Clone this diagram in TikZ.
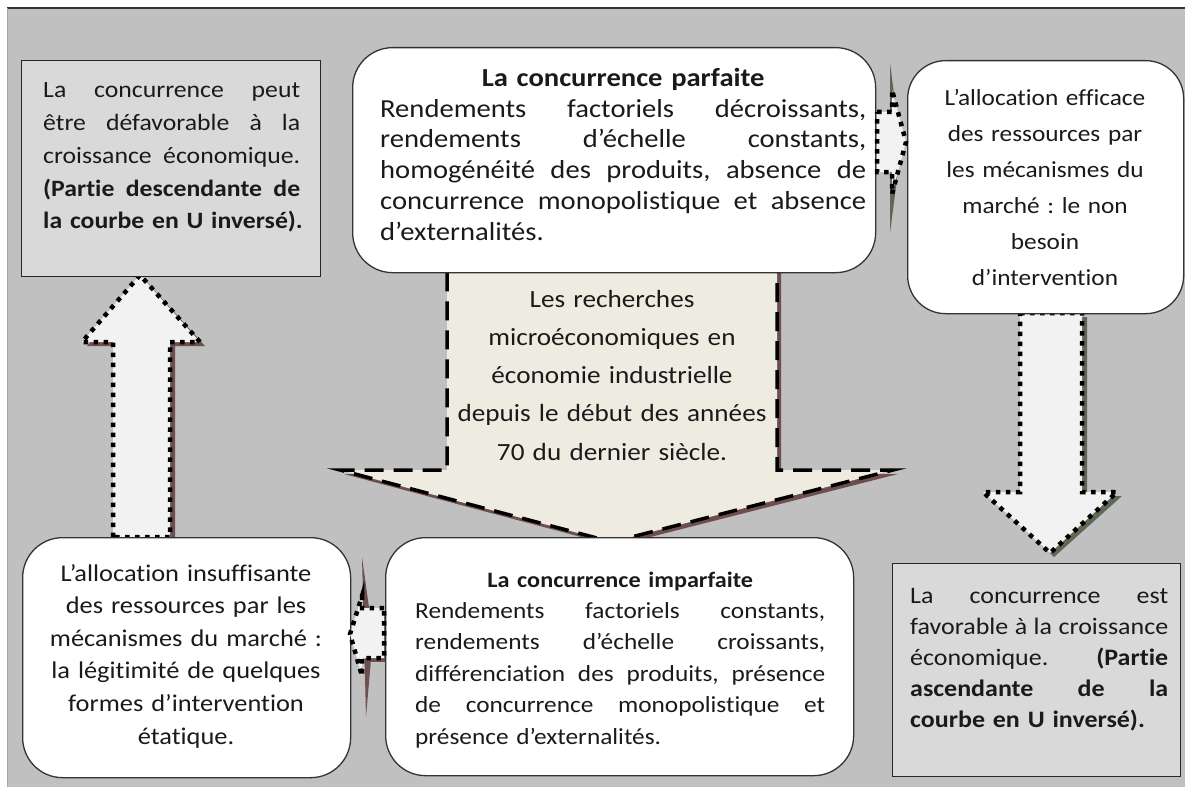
\documentclass[tikz,border=0pt]{standalone}
\usepackage{fontspec}
\setmainfont{Carlito}[FakeStretch=1.1, Ligatures={NoCommon,NoContextual}, Contextuals=NoAlternate]
\frenchspacing
\definecolor{bggrey}{HTML}{C0C0C0}
\definecolor{boxgrey}{HTML}{D9D9D9}
\definecolor{arrowfill}{HTML}{F2F2F2}
\definecolor{beige}{HTML}{EEECE1}
\definecolor{redshadow}{HTML}{6E4E4E}
\definecolor{greenshadow}{HTML}{5F6856}
\definecolor{txtcol}{HTML}{1A1A1A}
\newlength{\lw}
\newcommand{\jl}[1]{\makebox[\lw][s]{\spaceskip=0pt\relax\xspaceskip=0pt\relax #1}\\}
\begin{document}
\begin{tikzpicture}[x=1pt,y=-1pt,
  greybox/.style={draw=black!85, line width=1.3pt, fill=boxgrey, inner sep=0pt, anchor=north west},
  roundbox/.style={draw=black!80, line width=1.3pt, fill=white, rounded corners=40pt, inner sep=0pt, anchor=north west},
  dotarrow/.style={draw=black, line width=4.5pt, dash pattern=on 4.5pt off 5.5pt, fill=arrowfill},
  dasharrow/.style={draw=black, line width=3.5pt, dash pattern=on 19pt off 10pt, fill=beige},
  txt/.style={inner sep=0pt, anchor=north west, align=left, text=txtcol},
  ctxt/.style={inner sep=0pt, anchor=north, align=center, text=txtcol}
]
\useasboundingbox (0,0) rectangle (1185,789);
% background
\fill[bggrey] (7,8) rectangle (1185,787);
\draw[black!80, line width=1.5pt] (7,8) -- (1185,8);
\draw[black!35, line width=0.8pt] (7,8) -- (7,787);

% shadows of the big arrows
\fill[redshadow] (451,268) -- (781,268) -- (781,474) -- (898,474) -- (615,546) -- (344,474) -- (451,474) -- cycle;
\fill[redshadow] (118,541) -- (118,346) -- (87,346) -- (144,279) -- (205,346) -- (175,346) -- (175,541) -- cycle;
\fill[greenshadow] (1025,317) -- (1087,317) -- (1087,496) -- (1122,496) -- (1054,557) -- (988,496) -- (1025,496) -- cycle;

% big arrows
\filldraw[dasharrow] (447,265) -- (777,265) -- (777,470) -- (893,470) -- (612,542) -- (340,470) -- (447,470) -- cycle;
\filldraw[dotarrow] (113,537) -- (113,342) -- (82,342) -- (140,275) -- (200,342) -- (170,342) -- (170,537) -- cycle;
\filldraw[dotarrow] (1020,313) -- (1082,313) -- (1082,492) -- (1117,492) -- (1050,553) -- (983,492) -- (1020,492) -- cycle;

% boxes
\node[greybox, minimum width=299pt, minimum height=216pt] (tl) at (21,60) {};
\node[roundbox, minimum width=523pt, minimum height=225pt] (tm) at (352,47) {};
\node[roundbox, minimum width=276pt, minimum height=253pt, rounded corners=38pt] (tr) at (907,60) {};
\node[roundbox, minimum width=328pt, minimum height=240pt] (bl) at (22,537) {};
\node[roundbox, minimum width=468pt, minimum height=238pt] (bm) at (385,537) {};
\node[greybox, minimum width=288pt, minimum height=213pt] (br) at (892,563) {};

% small arrows in the gaps
\fill[greenshadow] (890,63) -- (901,148) -- (890,233) -- cycle;
\filldraw[dotarrow] (877,112) -- (892,112) -- (892,90) -- (906,142) -- (892,194) -- (892,172) -- (877,172) -- cycle;
\fill[redshadow] (362,557) -- (373,636) -- (366,717) -- cycle;
\fill[redshadow] (365,611) -- (385,611) -- (385,662) -- (365,662) -- cycle;
\filldraw[dotarrow] (384,608) -- (362,608) -- (362,596) -- (350,634) -- (362,676) -- (362,658) -- (384,658) -- cycle;

% texts
\node[txt, text width=257pt, font={\fontsize{23.4}{32.8}\selectfont\setlength{\lw}{257pt}}] (tltext) at (43,74.5) {%
\jl{\strut La concurrence peut}
\jl{être défavorable à la}
\jl{croissance économique.}
\jl{\textbf{(Partie descendante de}}
\mbox{\textbf{la courbe en U inversé).}}};

\node[txt, text width=486pt, font={\fontsize{26}{30.8}\selectfont\setlength{\lw}{486pt}}] (tmtext) at (380,64.5) {%
\makebox[\lw][c]{\strut\textbf{La concurrence parfaite}}\\
\jl{Rendements factoriels décroissants,}
\jl{rendements d’échelle constants,}
\jl{homogénéité des produits, absence de}
\jl{concurrence monopolistique et absence}
d’externalités.};

\node[ctxt, text width=270pt, font=\fontsize{23}{36}\selectfont] (trtext) at (1045,80) {%
\strut L’allocation efficace\\des ressources par\\les mécanismes du\\marché : le non\\besoin\\d’intervention};

\node[ctxt, text width=330pt, font=\fontsize{24.7}{38.3}\selectfont] (ctext) at (612,280) {%
\strut Les recherches\\microéconomiques en\\économie industrielle\\depuis le début des années\\70 du dernier siècle.};

\node[ctxt, text width=320pt, font=\fontsize{24}{32.6}\selectfont] (bltext) at (186,558) {%
\strut L’allocation insuffisante\\des ressources par les\\mécanismes du marché :\\la légitimité de quelques\\formes d’intervention\\étatique.};

\node[txt, text width=410pt, font={\fontsize{23}{31.4}\selectfont\setlength{\lw}{410pt}}] (bmtext) at (415,565) {%
\makebox[\lw][c]{\strut\fontsize{22}{31.4}\selectfont\textbf{La concurrence imparfaite}}\\
\jl{Rendements factoriels constants,}
\jl{rendements d’échelle croissants,}
\jl{différenciation des produits, présence}
\jl{de concurrence monopolistique et}
présence d’externalités.};

\node[txt, text width=258pt, font={\fontsize{23.6}{31}\selectfont\setlength{\lw}{258pt}}] (brtext) at (910,581.5) {%
\jl{\strut La concurrence est}
\jl{favorable à la croissance}
\jl{économique. \textbf{(Partie}}
\jl{\textbf{ascendante de la}}
\mbox{\textbf{courbe en U inversé).}}};
\end{tikzpicture}
\end{document}
